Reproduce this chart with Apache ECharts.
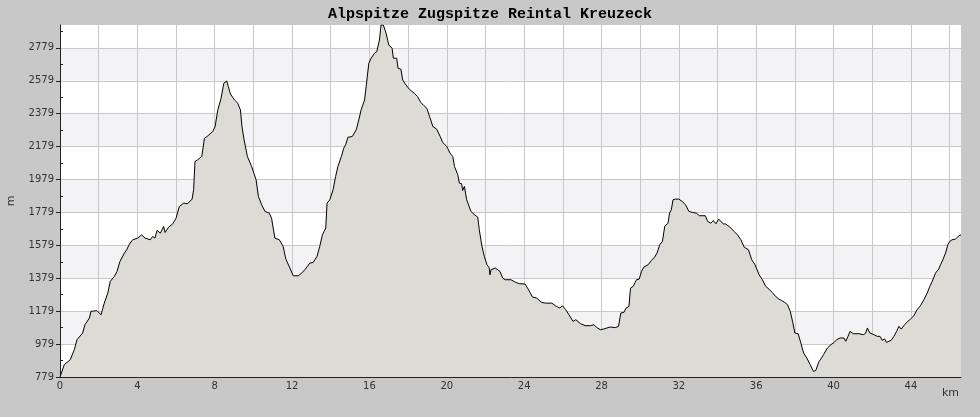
<!DOCTYPE html>
<html>
<head>
<meta charset="utf-8">
<script src="https://cdn.jsdelivr.net/npm/echarts@6/dist/echarts.min.js"></script>
<style>
html,body{margin:0;padding:0;background:#c8c8c8;}
#chart{width:980px;height:417px;}
</style>
</head>
<body>
<div id="chart"></div>
<script>
const TITLE = 'Alpspitze Zugspitze Reintal Kreuzeck';
const KM = [
 0, 0.22, 0.53, 0.74, 0.88, 1.17, 1.29, 1.52, 1.6, 1.91,
 2.12, 2.29, 2.47, 2.6, 2.81, 2.95, 3.10, 3.33, 3.45, 3.59,
 3.76, 4.02, 4.22, 4.40, 4.67, 4.79, 4.91, 5.02, 5.19, 5.36,
 5.43, 5.62, 5.83, 6.0, 6.17, 6.4, 6.6, 6.83, 6.91, 6.98,
 7.12, 7.33, 7.47, 7.60, 7.90, 8.02, 8.16, 8.33, 8.47, 8.62,
 8.81, 9.02, 9.19, 9.33, 9.41, 9.52, 9.69, 9.91, 10.14, 10.26,
 10.43, 10.6, 10.82, 10.94, 11.11, 11.34, 11.54, 11.68, 11.89, 12.06,
 12.32, 12.49, 12.66, 12.92, 13.09, 13.29, 13.43, 13.57, 13.74, 13.81,
 13.95, 14.12, 14.25, 14.37, 14.55, 14.67, 14.77, 14.89, 15.11, 15.32,
 15.45, 15.57, 15.75, 15.83, 15.97, 16.09, 16.26, 16.38, 16.52, 16.6,
 16.72, 16.86, 17.0, 17.17, 17.24, 17.41, 17.48, 17.63, 17.72, 17.89,
 18.06, 18.32, 18.49, 18.66, 18.8, 18.97, 19.11, 19.28, 19.48, 19.66,
 19.79, 20.0, 20.17, 20.31, 20.40, 20.57, 20.65, 20.77, 20.82, 20.91,
 21.03, 21.25, 21.43, 21.60, 21.68, 21.82, 21.94, 22.08, 22.20, 22.23,
 22.29, 22.51, 22.75, 22.89, 23.02, 23.32, 23.40, 23.57, 23.75, 24.05,
 24.23, 24.43, 24.64, 24.91, 25.12, 25.43, 25.67, 25.84, 25.98, 26.15,
 26.32, 26.53, 26.67, 26.92, 27.15, 27.44, 27.61, 27.78, 27.96, 28.09,
 28.19, 28.45, 28.71, 28.88, 29.0, 29.16, 29.27, 29.42, 29.50, 29.64,
 29.81, 29.95, 30.07, 30.19, 30.41, 30.58, 30.75, 30.87, 31.01, 31.15,
 31.27, 31.44, 31.52, 31.61, 31.70, 31.83, 32.0, 32.17, 32.35, 32.52,
 32.72, 32.90, 33.07, 33.37, 33.49, 33.66, 33.78, 33.92, 34.06, 34.18,
 34.30, 34.43, 34.64, 34.86, 35.03, 35.21, 35.38, 35.60, 35.77, 35.94,
 36.15, 36.32, 36.49, 36.66, 36.83, 37.0, 37.17, 37.31, 37.48, 37.62,
 37.76, 37.88, 38.0, 38.17, 38.31, 38.45, 38.62, 38.79, 38.96, 39.08,
 39.17, 39.25, 39.34, 39.48, 39.68, 39.86, 40.03, 40.16, 40.34, 40.54,
 40.63, 40.75, 40.85, 41.02, 41.32, 41.54, 41.66, 41.75, 41.88, 42.09,
 42.26, 42.40, 42.52, 42.64, 42.74, 42.86, 42.98, 43.12, 43.26, 43.38,
 43.50, 43.67, 43.84, 43.98, 44.15, 44.32, 44.49, 44.67, 44.84, 44.98,
 45.10, 45.27, 45.44, 45.53, 45.65, 45.79, 45.91, 46.01, 46.13, 46.30,
 46.39, 46.48, 46.59
];
const ELEV = [
 779, 854, 884, 945, 1006, 1046, 1097, 1137, 1178, 1182,
 1157, 1228, 1289, 1360, 1390, 1421, 1481, 1532, 1552, 1587,
 1613, 1623, 1643, 1623, 1613, 1633, 1623, 1670, 1653, 1694,
 1657, 1690, 1710, 1744, 1815, 1836, 1832, 1860, 1917, 2089,
 2099, 2119, 2230, 2240, 2271, 2301, 2402, 2473, 2564, 2578,
 2499, 2463, 2443, 2402, 2300, 2220, 2119, 2058, 1977, 1876,
 1825, 1785, 1775, 1744, 1623, 1613, 1572, 1495, 1441, 1394,
 1394, 1410, 1431, 1471, 1475, 1512, 1572, 1643, 1684, 1836,
 1856, 1917, 1997, 2058, 2119, 2169, 2190, 2236, 2240, 2281,
 2341, 2402, 2463, 2544, 2686, 2716, 2746, 2756, 2827, 2918,
 2918, 2868, 2797, 2777, 2716, 2716, 2655, 2649, 2584, 2554,
 2528, 2503, 2483, 2447, 2430, 2412, 2362, 2301, 2285, 2240,
 2204, 2180, 2139, 2119, 2058, 2008, 1957, 1953, 1912, 1937,
 1856, 1785, 1765, 1751, 1674, 1572, 1512, 1461, 1441, 1400,
 1431, 1441, 1421, 1380, 1370, 1370, 1360, 1354, 1346, 1344,
 1309, 1265, 1259, 1232, 1228, 1228, 1208, 1198, 1212, 1188,
 1157, 1117, 1127, 1103, 1091, 1091, 1097, 1077, 1066, 1070,
 1070, 1083, 1079, 1087, 1168, 1172, 1198, 1208, 1319, 1330,
 1370, 1374, 1421, 1447, 1461, 1487, 1508, 1532, 1582, 1603,
 1694, 1714, 1775, 1795, 1856, 1860, 1860, 1846, 1825, 1785,
 1779, 1775, 1759, 1759, 1724, 1714, 1730, 1710, 1738, 1724,
 1710, 1708, 1690, 1663, 1643, 1613, 1568, 1552, 1491, 1461,
 1400, 1370, 1330, 1313, 1293, 1269, 1253, 1244, 1232, 1218,
 1178, 1117, 1046, 1042, 985, 925, 894, 854, 813, 819,
 813, 874, 888, 915, 955, 975, 989, 1006, 1016, 1016,
 996, 1026, 1056, 1042, 1042, 1036, 1046, 1077, 1046, 1036,
 1026, 1026, 1002, 1010, 989, 996, 1002, 1026, 1056, 1087,
 1070, 1097, 1117, 1131, 1151, 1188, 1212, 1249, 1289, 1330,
 1360, 1410, 1435, 1461, 1491, 1532, 1582, 1603, 1613, 1617,
 1623, 1637, 1643
];
const Y_LABELS = [779, 979, 1179, 1379, 1579, 1779, 1979, 2179, 2379, 2579, 2779];
const Y_MINOR = [879, 1079, 1279, 1479, 1679, 1879, 2079, 2279, 2479, 2679, 2879];
const X_LABELS = [0, 4, 8, 12, 16, 20, 24, 28, 32, 36, 40, 44];
const X_TICKS = [0,1,2,3,4,5,6,7,8,9,10,11,12,13,14,15,16,17,18,19,20,21,22,23,24,25,26,27,28,29,30,31,32,33,34,35,36,37,38,39,40,41,42,43,44,45,46];

const xMax = Math.max(...KM);
const yMin = Math.min(...Y_LABELS, ...ELEV);
const yMax = Math.max(...ELEV);
const n = Math.min(KM.length, ELEV.length);
const points = [];
for (let i = 0; i < n; i++) points.push([KM[i], ELEV[i]]);

const plain = v => String(Math.round(v));
const labelStyle = { color: '#333', fontFamily: 'DejaVu Sans', fontSize: 10, formatter: plain };
const chart = echarts.init(document.getElementById('chart'), null, { renderer: 'canvas' });
chart.setOption({
  animation: false,
  backgroundColor: '#c8c8c8',
  title: {
    text: TITLE, left: 'center', top: 7, padding: 0,
    textStyle: { fontFamily: 'Liberation Mono', fontSize: 15, fontWeight: 'bold', color: '#000' }
  },
  grid: { left: 60, right: 19, top: 25, bottom: 40, show: true, backgroundColor: '#ffffff', borderWidth: 0, outerBoundsMode: 'none' },
  xAxis: [{
    type: 'value', min: 0, max: xMax, interval: 2,
    name: 'km', nameLocation: 'end', nameGap: 0,
    nameTextStyle: { color: '#333', fontFamily: 'DejaVu Sans', fontSize: 11, align: 'right', verticalAlign: 'top', padding: [11, 2, 0, 0] },
    axisLine: { show: true, lineStyle: { color: '#222', width: 1 } },
    axisTick: { show: false },
    axisLabel: Object.assign({ margin: 4, showMaxLabel: true, showMinLabel: true, hideOverlap: false, customValues: X_LABELS }, labelStyle),
    splitLine: { show: true, lineStyle: { color: '#c8c8c8', width: 1 } }
  }, {
    type: 'value', min: 0, max: xMax, position: 'bottom',
    axisLine: { show: false },
    axisLabel: { show: false },
    splitLine: { show: false },
    axisTick: { show: true, inside: true, length: 3, customValues: X_TICKS, lineStyle: { color: '#222' } }
  }],
  yAxis: [{
    type: 'value', min: yMin, max: yMax, position: 'left',
    name: 'm', nameLocation: 'middle', nameGap: 43,
    nameTextStyle: { color: '#333', fontFamily: 'DejaVu Sans', fontSize: 11 },
    axisLine: { show: true, lineStyle: { color: '#222', width: 1 } },
    axisTick: { show: true, inside: false, length: 4, customValues: Y_LABELS, lineStyle: { color: '#222' } },
    axisLabel: Object.assign({ margin: 6, showMaxLabel: true, showMinLabel: true, customValues: Y_LABELS }, labelStyle),
    splitLine: { show: true, lineStyle: { color: '#c8c8c8', width: 1 } },
    splitArea: { show: true, areaStyle: { color: ['#ffffff', '#f3f2f5'] } }
  }, {
    type: 'value', min: yMin, max: yMax, position: 'left',
    axisLine: { show: false },
    axisLabel: { show: false },
    splitLine: { show: false },
    axisTick: { show: true, inside: true, length: 3, customValues: Y_MINOR, lineStyle: { color: '#222' } }
  }],
  series: [{
    type: 'line',
    xAxisIndex: 0, yAxisIndex: 0,
    data: points,
    symbol: 'none',
    smooth: false,
    lineStyle: { color: '#000', width: 1 },
    areaStyle: { color: '#dcdbd6', opacity: 1 },
    z: 3
  }]
});
</script>
</body>
</html>
